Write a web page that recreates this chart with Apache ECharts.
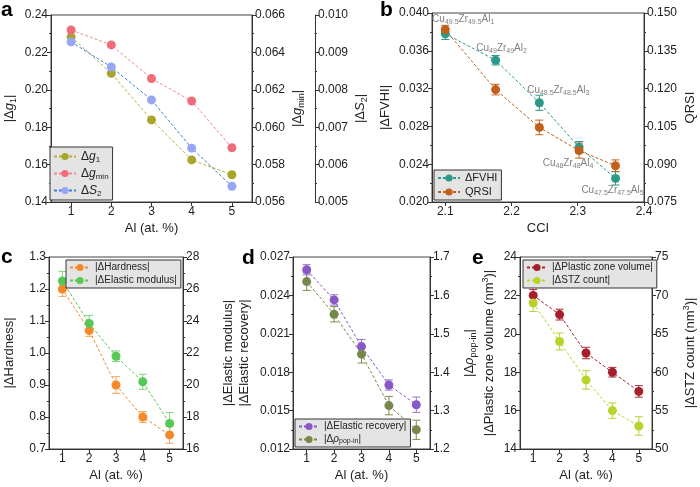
<!DOCTYPE html>
<html>
<head>
<meta charset="utf-8">
<script src="https://cdn.jsdelivr.net/npm/echarts@6/dist/echarts.min.js"></script>
<style>
html, body { margin: 0; padding: 0; background: #fff; }
#container { width: 700px; height: 487px; }
</style>
</head>
<body>
<div id="container"></div>
<script>
// Al content (at. %) shared by panels a, c, d, e
var alContent = [1, 2, 3, 4, 5];
var alLabels = [1, 2, 3, 4, 5];

// panel a
var dG1 = [0.2283, 0.2088, 0.1839, 0.1625, 0.1546];
var dGmin = [0.0652, 0.0644, 0.0626, 0.0614, 0.0589];
var dS2 = [0.00928, 0.00861, 0.00773, 0.00644, 0.00542];

// panel b
var cci = [2.100, 2.176, 2.242, 2.302, 2.357];
var cciLabels = [2.1, 2.2, 2.3, 2.4];
var dFVHI = [0.0378, 0.0350, 0.0305, 0.0258, 0.0225];
var dFVHIErr = [0.0006, 0.0005, 0.0008, 0.0006, 0.0007];
var qrsi = [0.1434, 0.1196, 0.1046, 0.0954, 0.0894];
var qrsiErr = [0.0017, 0.0021, 0.0029, 0.0030, 0.0023];
var alloys = [['49.5', '49.5', '1'], ['49', '49', '2'], ['48.5', '48.5', '3'], ['48', '48', '4'], ['47.5', '47.5', '5']];

// panel c
var hardness = [1.200, 1.070, 0.900, 0.800, 0.744];
var hardnessErr = [0.023, 0.018, 0.026, 0.017, 0.026];
var modulus = [26.5, 23.85, 21.8, 20.2, 17.6];
var modulusErr = [0.6, 0.5, 0.33, 0.47, 0.68];

// panel d
var recovery = [0.0260, 0.02365, 0.0200, 0.0170, 0.01546];
var recoveryErr = [0.0004, 0.0004, 0.00055, 0.0004, 0.0006];
var popin = [1.636, 1.551, 1.447, 1.313, 1.250];
var popinErr = [0.023, 0.020, 0.023, 0.024, 0.025];

// panel e
var plastic = [22.0, 21.0, 19.0, 18.0, 17.0];
var plasticErr = [0.30, 0.28, 0.30, 0.25, 0.30];
var stz = [69.0, 64.0, 59.0, 55.0, 53.0];
var stzErr = [1.1, 1.1, 1.2, 1.0, 1.2];

var FONT = 'Liberation Sans, Arial, sans-serif';

function rich(fs, lh) {
    var sub = Math.round(fs * 0.68);
    return {
        i: {fontSize: fs, fontStyle: 'italic', fontFamily: FONT, lineHeight: lh, verticalAlign: 'middle'},
        s: {fontSize: sub, fontFamily: FONT, lineHeight: lh, verticalAlign: 'bottom'},
        p: {fontSize: sub, fontFamily: FONT, lineHeight: lh, verticalAlign: 'top'}
    };
}

function xAxisOf(gi, min, max, labels, name) {
    return {
        type: 'value', gridIndex: gi, min: min, max: max,
        name: name, nameLocation: 'middle', nameGap: 20,
        nameTextStyle: {fontSize: 13, color: '#222', fontFamily: FONT},
        axisLine: {show: true, onZero: false, lineStyle: {color: '#333'}},
        axisTick: {show: true, length: 4, customValues: labels, lineStyle: {color: '#333'}},
        axisLabel: {fontSize: 12, color: '#222', margin: 4, fontFamily: FONT, customValues: labels},
        splitLine: {show: false}
    };
}

function yAxisOf(gi, pos, min, max, interval, dec, name, gap, offset) {
    return {
        type: 'value', gridIndex: gi, position: pos, offset: offset || 0,
        min: min, max: max, interval: interval,
        name: name, nameLocation: 'middle', nameGap: gap,
        nameTextStyle: {fontSize: 13, color: '#222', fontFamily: FONT, lineHeight: 17, rich: rich(13, 17)},
        axisLine: {show: true, onZero: false, lineStyle: {color: '#333'}},
        axisTick: {show: true, length: 4, lineStyle: {color: '#333'}},
        minorTick: {show: true, splitNumber: 2, length: 2, lineStyle: {color: '#333'}},
        axisLabel: {fontSize: 12, color: '#222', margin: 3, fontFamily: FONT,
            formatter: function (v) { return v.toFixed(dec); }},
        splitLine: {show: false},
        minorSplitLine: {show: false}
    };
}

function lineSeries(name, xs, ys, xi, yi, color, lineColor) {
    return {
        type: 'line', name: name, xAxisIndex: xi, yAxisIndex: yi,
        data: xs.map(function (x, i) { return [x, ys[i]]; }),
        symbol: 'circle', symbolSize: 9,
        itemStyle: {color: color},
        lineStyle: {color: lineColor || color, width: 1, type: [3, 2]},
        z: 3, animation: false
    };
}

function errSeries(xs, ys, es, xi, yi, color) {
    return {
        type: 'custom', xAxisIndex: xi, yAxisIndex: yi, z: 2, silent: true, animation: false,
        data: xs.map(function (x, i) { return [x, ys[i], es[i]]; }),
        encode: {x: 0, y: 1},
        renderItem: function (params, api) {
            var x = api.value(0), y = api.value(1), e = api.value(2);
            var p1 = api.coord([x, y + e]), p2 = api.coord([x, y - e]);
            var st = {stroke: color, lineWidth: 1};
            return {type: 'group', children: [
                {type: 'line', shape: {x1: p1[0], y1: p1[1], x2: p2[0], y2: p2[1]}, style: st},
                {type: 'line', shape: {x1: p1[0] - 4, y1: p1[1], x2: p1[0] + 4, y2: p1[1]}, style: st},
                {type: 'line', shape: {x1: p2[0] - 4, y1: p2[1], x2: p2[0] + 4, y2: p2[1]}, style: st}
            ]};
        }
    };
}

var legendNames = {
    'Δg1': 'Δ{i|g}{s|1}',
    'Δgmin': 'Δ{i|g}{s|min}',
    'ΔS2': 'Δ{i|S}{s|2}',
    '|Δρpop-in|': '|Δ{i|ρ}{s|pop-in}|'
};

function legendOf(left, top, names, fs, lh, iw) {
    return {
        left: left, top: top, orient: 'vertical', data: names,
        backgroundColor: '#e4e4e4', borderColor: '#333', borderWidth: 1, borderRadius: 0,
        padding: [2, 4, 2, 3], itemGap: 2, itemWidth: iw, itemHeight: 9,
        textStyle: {fontSize: fs, color: '#222', fontFamily: FONT, lineHeight: lh, rich: rich(fs, lh)},
        formatter: function (n) { return legendNames[n] || n; }
    };
}

// composition labels next to the ΔFVHI points
var compLabelPos = [
    {position: 'top', offset: [18, 1]},
    {position: 'top', offset: [6, 4]},
    {position: 'top', offset: [19, 3]},
    {position: 'bottom', offset: [-11, 0]},
    {position: 'bottom', offset: [-3, -4]}
];
var fvhiSeries = lineSeries('ΔFVHI', cci, dFVHI, 1, 3, '#2b9a8a');
fvhiSeries.data = cci.map(function (x, i) {
    return {
        value: [x, dFVHI[i]],
        label: Object.assign({
            show: true,
            formatter: 'Cu{s|' + alloys[i][0] + '}Zr{s|' + alloys[i][1] + '}Al{s|' + alloys[i][2] + '}'
        }, compLabelPos[i])
    };
});
fvhiSeries.label = {
    show: false, color: '#808080', fontSize: 10, fontFamily: FONT, lineHeight: 13,
    rich: {s: {fontSize: 7, color: '#808080', fontFamily: FONT, lineHeight: 13, verticalAlign: 'bottom'}}
};

var gridStyle = {show: true, borderColor: '#444', borderWidth: 1, backgroundColor: 'transparent'};

var option = {
    backgroundColor: '#fff',
    animation: false,
    textStyle: {fontFamily: FONT},
    grid: [
        Object.assign({left: 48, top: 15, width: 204, height: 187}, gridStyle),
        Object.assign({left: 432, top: 13, width: 217, height: 189}, gridStyle),
        Object.assign({left: 46, top: 257, width: 137, height: 192}, gridStyle),
        Object.assign({left: 293, top: 257, width: 137, height: 192}, gridStyle),
        Object.assign({left: 520, top: 257, width: 139, height: 192}, gridStyle)
    ],
    xAxis: [
        xAxisOf(0, 0.5, 5.5, alLabels, 'Al (at. %)'),
        xAxisOf(1, 2.08, 2.4, cciLabels, 'CCI'),
        xAxisOf(2, 0.5, 5.5, alLabels, 'Al (at. %)'),
        xAxisOf(3, 0.5, 5.5, alLabels, 'Al (at. %)'),
        xAxisOf(4, 0.5, 5.5, alLabels, 'Al (at. %)')
    ],
    yAxis: [
        yAxisOf(0, 'left', 0.14, 0.24, 0.02, 2, '|Δ{i|g}{s|1}|', 33),
        yAxisOf(0, 'right', 0.056, 0.066, 0.002, 3, '|Δ{i|g}{s|min}|', 37),
        yAxisOf(0, 'right', 0.005, 0.010, 0.001, 3, '|Δ{i|S}{s|2}|', 34, 63),
        yAxisOf(1, 'left', 0.020, 0.040, 0.004, 3, '|ΔFVHI|', 38),
        yAxisOf(1, 'right', 0.075, 0.150, 0.015, 3, 'QRSI', 38),
        yAxisOf(2, 'left', 0.7, 1.3, 0.1, 1, '|ΔHardness|', 31),
        yAxisOf(2, 'right', 16, 28, 2, 0, '|ΔElastic modulus|', 37),
        yAxisOf(3, 'left', 0.012, 0.027, 0.003, 3, '|ΔElastic recovery|', 40),
        yAxisOf(3, 'right', 1.2, 1.7, 0.1, 1, '|Δ{i|ρ}{s|pop-in}|', 31),
        yAxisOf(4, 'left', 14, 24, 2, 0, '|ΔPlastic zone volume (nm{p|3})|', 22),
        yAxisOf(4, 'right', 50, 75, 5, 0, '|ΔSTZ count (nm{p|3})|', 30)
    ],
    legend: [
        legendOf(50, 147, ['Δg1', 'Δgmin', 'ΔS2'], 12, 15, 22),
        legendOf(434, 170, ['ΔFVHI', 'QRSI'], 11, 12, 22),
        legendOf(66, 260, ['|ΔHardness|', '|ΔElastic modulus|'], 10, 11, 20),
        legendOf(295, 419, ['|ΔElastic recovery|', '|Δρpop-in|'], 10, 11, 20),
        legendOf(523, 260, ['|ΔPlastic zone volume|', '|ΔSTZ count|'], 10, 11, 20)
    ],
    graphic: [
        {type: 'text', left: 1, top: 0, style: {text: 'a', font: 'bold 21px Liberation Sans', fill: '#000'}},
        {type: 'text', left: 380, top: 0, style: {text: 'b', font: 'bold 21px Liberation Sans', fill: '#000'}},
        {type: 'text', left: 1, top: 247, style: {text: 'c', font: 'bold 21px Liberation Sans', fill: '#000'}},
        {type: 'text', left: 242, top: 248, style: {text: 'd', font: 'bold 21px Liberation Sans', fill: '#000'}},
        {type: 'text', left: 472, top: 248, style: {text: 'e', font: 'bold 21px Liberation Sans', fill: '#000'}}
    ],
    series: [
        lineSeries('Δg1', alContent, dG1, 0, 0, '#a8a62a', '#b4b23a'),
        lineSeries('Δgmin', alContent, dGmin, 0, 1, '#f06c78', '#f08890'),
        lineSeries('ΔS2', alContent, dS2, 0, 2, '#98a6f5', '#3c7ee0'),

        errSeries(cci, dFVHI, dFVHIErr, 1, 3, '#2b9a8a'),
        errSeries(cci, qrsi, qrsiErr, 1, 4, '#c0661e'),
        fvhiSeries,
        lineSeries('QRSI', cci, qrsi, 1, 4, '#c0601a'),

        errSeries(alContent, hardness, hardnessErr, 2, 5, '#f4a860'),
        errSeries(alContent, modulus, modulusErr, 2, 6, '#80d480'),
        lineSeries('|ΔHardness|', alContent, hardness, 2, 5, '#f5892a'),
        lineSeries('|ΔElastic modulus|', alContent, modulus, 2, 6, '#55c855'),

        errSeries(alContent, recovery, recoveryErr, 3, 7, '#9a70cc'),
        errSeries(alContent, popin, popinErr, 3, 8, '#7d8c50'),
        lineSeries('|ΔElastic recovery|', alContent, recovery, 3, 7, '#8a58c6'),
        lineSeries('|Δρpop-in|', alContent, popin, 3, 8, '#77884a'),

        errSeries(alContent, plastic, plasticErr, 4, 9, '#a82a34'),
        errSeries(alContent, stz, stzErr, 4, 10, '#bcd034'),
        lineSeries('|ΔPlastic zone volume|', alContent, plastic, 4, 9, '#a61f2b'),
        lineSeries('|ΔSTZ count|', alContent, stz, 4, 10, '#b9d32a')
    ]
};

var myChart = echarts.init(document.getElementById('container'), null, {renderer: 'canvas'});
myChart.setOption(option, true);
</script>
</body>
</html>
